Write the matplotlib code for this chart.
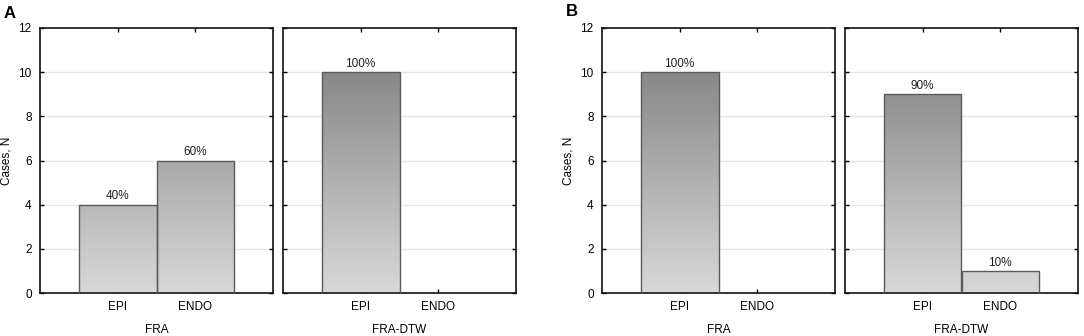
import numpy as np
import matplotlib
matplotlib.use("Agg")
import matplotlib.pyplot as plt
from matplotlib.colors import LinearSegmentedColormap
from matplotlib.patches import Rectangle

plt.rcParams['font.family'] = ['Liberation Sans', 'DejaVu Sans']

#-----------------
# data
categories = ["EPI", "ENDO"]
groups = ["FRA", "FRA-DTW"]
panel_labels = ["A", "B"]
counts_A = {"FRA": [4, 6], "FRA-DTW": [10, 0]}
counts_B = {"FRA": [10, 0], "FRA-DTW": [9, 1]}
pct_A = {"FRA": ["40%", "60%"], "FRA-DTW": ["100%", ""]}
pct_B = {"FRA": ["100%", ""], "FRA-DTW": ["90%", "10%"]}
yticks = [0, 2, 4, 6, 8, 10, 12]

grad_cmap = LinearSegmentedColormap.from_list("bar_grad", ["#d8d8d8", "#b0b0b0", "#868686"])


def gradient_bar(ax, x, h, width=1.0):
    if h <= 0:
        return
    x0 = x - width / 2
    x1 = x + width / 2
    # gradient tied to absolute y so taller bars get darker tops
    grad = np.linspace(0, h, 200).reshape(-1, 1)
    im = ax.imshow(grad, extent=(x0, x1, 0, h), origin="lower", aspect="auto",
                   cmap=grad_cmap, vmin=0, vmax=10.3, zorder=2)
    rect = Rectangle((x0, 0), width, h, facecolor="none", edgecolor="#5a5a5a",
                     linewidth=1.0, zorder=3)
    ax.add_patch(rect)
    im.set_clip_path(rect)


def draw_sub(ax, vals, pcts, group, show_ylabel):
    xs = np.arange(len(categories))
    for x, v, p in zip(xs, vals, pcts):
        gradient_bar(ax, x, v)
        if p:
            ax.text(x, v + 0.1, p, ha="center", va="bottom", fontsize=8.5, color="#222222")
    ax.set_xlim(-1, 2)
    ax.set_ylim(0, 12)
    ax.set_xticks(xs)
    ax.set_xticklabels(categories, fontsize=8.5)
    ax.set_yticks(yticks)
    for yv in yticks[1:-1]:
        ax.axhline(yv, color="#e6e6e6", linewidth=1.0, zorder=1)
    ax.tick_params(direction="in", top=True, right=True, length=3, width=1.0,
                   labelsize=8.5, pad=6)
    if show_ylabel:
        ax.set_ylabel("Cases, N", fontsize=8.5)
    else:
        ax.set_yticklabels([])
    ax.set_xlabel(group, fontsize=8.5, labelpad=8)
    for s in ax.spines.values():
        s.set_linewidth(1.2)
        s.set_color("#111111")


fig = plt.figure(figsize=(10.84, 3.36), dpi=100)
W, H = 1084, 336
bottom = (H - 293) / H
height = (293 - 28) / H
lefts = [[40, 283], [602, 845]]
widths = 233

for pi, (counts, pcts) in enumerate([(counts_A, pct_A), (counts_B, pct_B)]):
    for gi, g in enumerate(groups):
        ax = fig.add_axes([lefts[pi][gi] / W, bottom, widths / W, height])
        draw_sub(ax, counts[g], pcts[g], g, gi == 0)

fig.text(4 / W, 1 - 13 / H, panel_labels[0], fontsize=12, fontweight="bold", va="center")
fig.text(566 / W, 1 - 11 / H, panel_labels[1], fontsize=12, fontweight="bold", va="center")

plt.savefig("out.png", dpi=100)
